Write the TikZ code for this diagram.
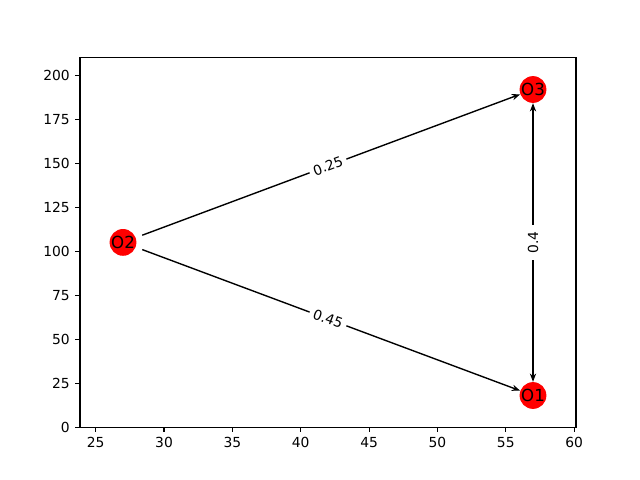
\documentclass[tikz,border=0pt]{standalone}
\usepackage{fontspec}
\setmainfont{DejaVu Sans}
\usetikzlibrary{arrows.meta}
\begin{document}
\begin{tikzpicture}[x=0.01in,y=-0.01in,
  graphnode/.style={circle,fill=red,draw=none,minimum size=17.3pt,inner sep=0pt,font=\fontsize{12}{14}\selectfont},
  edgeline/.style={line width=1pt,shorten <=5pt,-{Stealth[length=6pt,width=4.5pt]}},
  elabel/.style={fill=white,inner xsep=3pt,inner ysep=2.5pt,sloped,font=\fontsize{10}{12}\selectfont},
  ticklabel/.style={font=\fontsize{10}{12}\selectfont,inner sep=0pt}]
\useasboundingbox (0,0) rectangle (640,480);
\draw[line width=0.8pt] (80,57.6) rectangle (576,427.2);
\foreach \v in {25,30,...,60}{
  \pgfmathsetmacro{\px}{95.7+(\v-25)*13.67}
  \draw[line width=0.8pt] (\px,427.2) -- ++(0pt,-3.5pt) node[below=3.5pt,ticklabel]{\v};
}
\foreach \v in {0,25,...,200}{
  \pgfmathsetmacro{\py}{427.2-\v*1.7586}
  \draw[line width=0.8pt] (80,\py) -- ++(-3.5pt,0pt) node[left=3.5pt,ticklabel]{\v};
}
\node[graphnode] (O2) at (123,242.4) {O2};
\node[graphnode] (O3) at (533,89.5) {O3};
\node[graphnode] (O1) at (533,395.5) {O1};
\draw[edgeline] (O2) -- (O3) node[midway,elabel]{0.25};
\draw[edgeline] (O2) -- (O1) node[midway,elabel]{0.45};
\draw[edgeline] (O3) -- (O1);
\draw[edgeline] (O1) -- (O3) node[midway,elabel,inner xsep=5pt]{0.4};
\end{tikzpicture}
\end{document}
